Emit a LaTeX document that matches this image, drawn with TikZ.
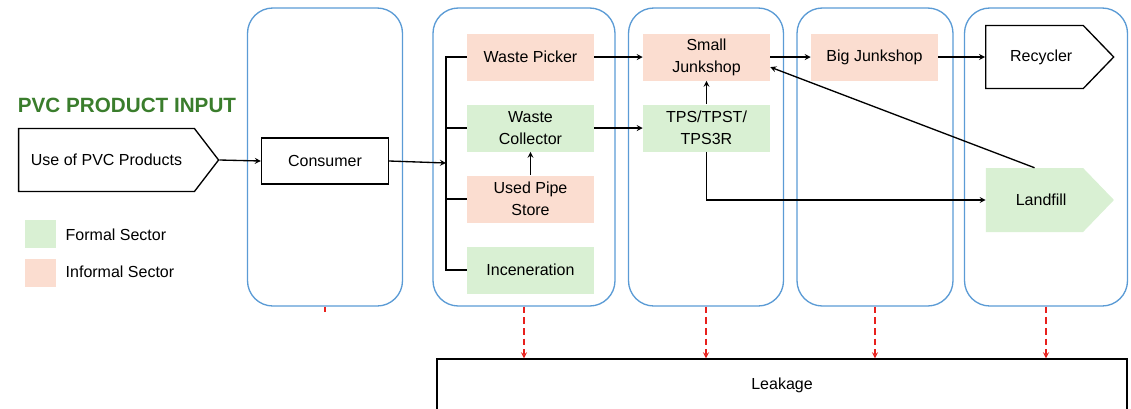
\documentclass[tikz,border=0pt]{standalone}
\usepackage{fontspec}
\setmainfont{Liberation Sans}
\usepackage{xcolor}
\usepackage{tikz}
\usetikzlibrary{shapes.geometric, shapes.symbols, arrows}
\definecolor{formal}{HTML}{D9F0D3}
\definecolor{informal}{HTML}{FBDDD0}
\definecolor{panelblue}{HTML}{5B9BD5}
\definecolor{titlegreen}{HTML}{3A7D2C}
\definecolor{leakred}{HTML}{E8201C}
\tikzstyle{stage} = [rectangle, rounded corners=19pt, draw=panelblue, line width=1pt, minimum height=223.5pt, inner sep=0pt]
\tikzstyle{formalbox} = [rectangle, fill=formal, minimum width=95.25pt, minimum height=35.25pt, text centered, align=center, inner sep=2pt, font=\fontsize{12}{16.5}\selectfont]
\tikzstyle{informalbox} = [formalbox, fill=informal]
\tikzstyle{plainbox} = [rectangle, draw=black, line width=1pt, text centered, inner sep=2pt, font=\fontsize{12}{16}\selectfont]
\tikzstyle{flag} = [signal, signal to=east, signal pointer angle=92, text centered, inner sep=2pt, font=\fontsize{12}{16}\selectfont]
\tikzstyle{arrow} = [line width=1pt,->,>=stealth]
\tikzstyle{line} = [line width=1pt]
\tikzstyle{leak} = [leakred, dash pattern=on 5pt off 3pt, line width=1pt,->,>=stealth]

\begin{document}
\begin{tikzpicture}[x=0.75pt, y=-0.75pt]
\useasboundingbox (0,0) rectangle (1131,408);

% Stage panels
\node (stage1) [stage, minimum width=116.25pt] at (325,157) {};
\node (stage2) [stage, minimum width=136.5pt] at (524,157) {};
\node (stage3) [stage, minimum width=116.25pt] at (706,157) {};
\node (stage4) [stage, minimum width=117pt] at (875,157) {};
\node (stage5) [stage, minimum width=122.25pt] at (1046,157) {};

% Input and legend
\node (title) [text=titlegreen, font=\fontsize{15.5}{18}\selectfont\bfseries] at (127,105) {PVC PRODUCT INPUT};
\node (use) [flag, draw=black, line width=1pt, signal pointer angle=105, minimum width=150pt, minimum height=47.25pt] at (106.5,160) {Use of PVC Products};
\node (keyformal) [rectangle, fill=formal, minimum width=23.25pt, minimum height=21pt] at (40.5,234) {};
\node (keyinformal) [rectangle, fill=informal, minimum width=23.25pt, minimum height=21pt] at (40.5,273) {};
\node (keyformaltext) [anchor=west, font=\fontsize{12}{14}\selectfont] at (61,235) {Formal Sector};
\node (keyinformaltext) [anchor=west, font=\fontsize{12}{14}\selectfont] at (61,272) {Informal Sector};

% Consumer
\node (consumer) [plainbox, minimum width=95.25pt, minimum height=34.5pt] at (325,161) {Consumer};

% Collection
\node (picker) [informalbox] at (530.5,57) {Waste Picker};
\node (collector) [formalbox] at (530.5,128) {Waste\\Collector};
\node (pipe) [informalbox] at (530.5,199) {Used Pipe\\Store};
\node (incin) [formalbox] at (530.5,270) {Inceneration};

% Junkshops and processing
\node (smalljunk) [informalbox] at (706.5,57) {Small\\Junkshop};
\node (tps) [formalbox] at (706.5,128) {TPS/TPST/\\TPS3R};
\node (bigjunk) [informalbox] at (874.5,57) {Big Junkshop};

% End points
\node (recycler) [flag, draw=black, line width=1pt, minimum width=96pt, minimum height=47.25pt] at (1034.5,57) {\hspace{10pt}Recycler};
\node (landfill) [flag, fill=formal, minimum width=96pt, minimum height=48pt] at (1034.5,200) {\hspace{10pt}Landfill};

% Leakage
\node (leakage) [plainbox, minimum width=517.5pt, minimum height=39pt] at (782,385) {Leakage};

% Drawing arrows
\coordinate (bus) at (446,163);
\draw [arrow] (use.east) -- (consumer.west);
\draw [arrow] (consumer.east) -- (bus);
\draw [line] (picker.west) -- (picker.west -| bus) -- (incin.west -| bus) -- (incin.west);
\draw [line] (collector.west) -- (collector.west -| bus);
\draw [line] (pipe.west) -- (pipe.west -| bus);
\draw [arrow] (pipe.north) -- (collector.south);
\draw [arrow] (picker.east) -- (smalljunk.west);
\draw [arrow] (collector.east) -- (tps.west);
\draw [arrow] (tps.north) -- (smalljunk.south);
\draw [arrow] (tps.south) |- (landfill.west);
\draw [arrow] (landfill.north) -- (smalljunk.-9);
\draw [arrow] (smalljunk.east) -- (bigjunk.west);
\draw [arrow] (bigjunk.east) -- (recycler.west);

% Leakage arrows
\draw [leakred, line width=1pt] (stage1.south) -- ++(0,5);
\draw [leak] (stage2.south) -- (stage2.south |- leakage.north);
\draw [leak] (stage3.south) -- (stage3.south |- leakage.north);
\draw [leak] (stage4.south) -- (stage4.south |- leakage.north);
\draw [leak] (stage5.south) -- (stage5.south |- leakage.north);

\end{tikzpicture}
\end{document}
